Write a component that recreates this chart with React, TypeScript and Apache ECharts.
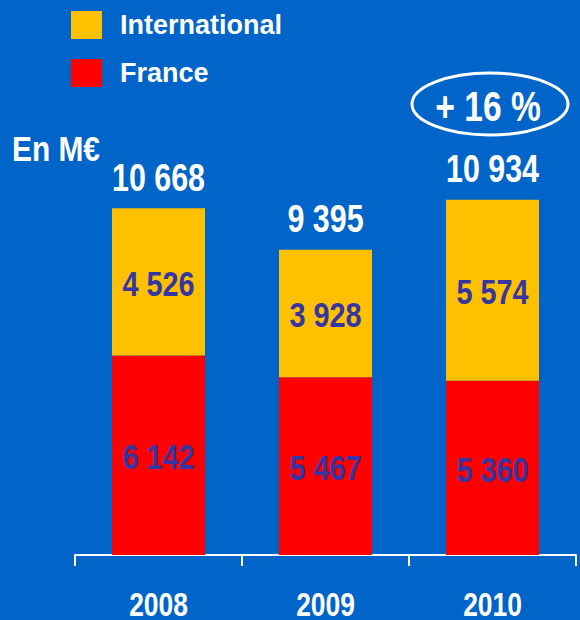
import React, { useEffect, useRef } from "react";
import * as echarts from "echarts";

const years = ["2008", "2009", "2010"];
const france = [6142, 5467, 5360];
const international = [4526, 3928, 5574];
const totals = [10668, 9395, 10934];

const FONT = "'Liberation Sans', Arial, sans-serif";
const SX = 0.8; // horizontal compression to imitate a narrow bold face
const fmt = (v: number) => String(v).replace(/\B(?=(\d{3})+(?!\d))/g, " ");

export default function App() {
  const ref = useRef<HTMLDivElement>(null);
  useEffect(() => {
    if (!ref.current) return;
    const chart = echarts.init(ref.current, undefined, { renderer: "svg" });
    const growth = Math.round(((totals[2] - totals[1]) / totals[1]) * 100);

    const txt = (x: number, y: number, text: string, size: number, fill: string) => ({
      type: "text",
      x,
      y,
      scaleX: SX,
      style: {
        text,
        fill,
        font: `bold ${size}px ${FONT}`,
        align: "center",
        verticalAlign: "middle",
        lineHeight: size,
      },
    });

    chart.setOption({
      animation: false,
      backgroundColor: "#0064C9",
      grid: { left: 75, right: 4, top: 165, bottom: 65 },
      legend: {
        data: ["International", "France"],
        orient: "vertical",
        left: 66,
        top: 6,
        itemWidth: 31,
        itemHeight: 28,
        itemGap: 20,
        icon: "rect",
        textStyle: {
          color: "#ffffff",
          fontFamily: FONT,
          fontWeight: "bold",
          fontSize: 27,
          lineHeight: 28,
          padding: [0, 0, 0, 13],
        },
      },
      xAxis: {
        type: "category",
        data: years,
        axisLine: { lineStyle: { color: "#ffffff", width: 2 } },
        axisTick: { show: true, length: 11, lineStyle: { color: "#ffffff", width: 2 } },
        axisLabel: { show: false },
      },
      yAxis: { type: "value", min: 0, max: 12000, show: false },
      series: [
        {
          name: "France",
          type: "bar",
          stack: "total",
          barWidth: 93,
          data: france,
          itemStyle: { color: "#FF0000" },
        },
        {
          name: "International",
          type: "bar",
          stack: "total",
          barWidth: 93,
          data: international,
          itemStyle: { color: "#FFC000" },
        },
        {
          name: "Labels",
          type: "custom",
          clip: false,
          z: 10,
          silent: true,
          data: years.map((_, i) => [i, france[i], international[i], totals[i]]),
          encode: { x: 0, y: 3 },
          renderItem: (params: any, api: any) => {
            const i = api.value(0);
            const f = api.value(1);
            const n = api.value(2);
            const t = api.value(3);
            const base = api.coord([i, 0]);
            const mid = api.coord([i, f]);
            const top = api.coord([i, f + n]);
            const cx = base[0];
            const ink = "#3535A3";
            return {
              type: "group",
              children: [
                txt(cx, (base[1] + mid[1]) / 2 + 1, fmt(f), 36, ink),
                txt(cx, (mid[1] + top[1]) / 2 + 1, fmt(n), 36, ink),
                txt(cx, top[1] - 31, fmt(t), 38, "#ffffff"),
                txt(cx, base[1] + 49, years[i], 33, "#ffffff"),
              ],
            };
          },
        },
      ],
      graphic: [
        {
          type: "text",
          left: 12,
          top: 130,
          scaleX: 0.83,
          style: {
            text: "En M€",
            fill: "#ffffff",
            font: `bold 36px ${FONT}`,
          },
        },
        {
          type: "ellipse",
          shape: { cx: 490, cy: 104, rx: 78, ry: 31 },
          style: { fill: "none", stroke: "#ffffff", lineWidth: 3 },
        },
        {
          type: "text",
          x: 488,
          y: 107,
          scaleX: SX,
          style: {
            text: `+ ${growth} %`,
            fill: "#ffffff",
            font: `bold 42px ${FONT}`,
            align: "center",
            verticalAlign: "middle",
          },
        },
      ],
    });
    return () => chart.dispose();
  }, []);
  return (
    <div
      ref={ref}
      style={{ position: "absolute", left: 0, top: 0, width: 580, height: 620 }}
    />
  );
}
